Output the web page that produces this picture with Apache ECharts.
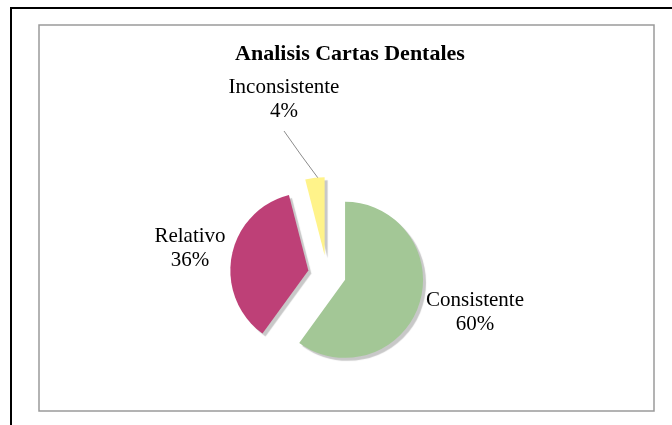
<!DOCTYPE html>
<html lang="es" style="height: 100%">
<head>
    <meta charset="utf-8" />
    <script src="https://cdn.jsdelivr.net/npm/echarts@6/dist/echarts.min.js"></script>
</head>
<body style="height: 100%; margin: 0; background: #fff">
    <div id="container" style="width: 672px; height: 425px;"></div>
    <script type="text/javascript">
        var dom = document.getElementById('container');
        var myChart = echarts.init(dom, null, { renderer: 'canvas' });

        const categories = ['Consistente', 'Relativo', 'Inconsistente'];
        const values = [60, 36, 4];
        const colors = ['#A3C796', '#BE4077', '#FFF38A'];

        // where each label block sits (center of the two lines)
        const labelPos = [[475, 312], [190, 248], [284, 99]];

        const fontFamily = '"Liberation Serif", "DejaVu Serif", serif';
        const pieCenter = [327, 274];
        const pieRadius = 78;

        var option = {
            backgroundColor: '#fff',
            animation: false,
            title: {
                text: 'Analisis Cartas Dentales',
                left: 345,
                top: 38,
                textAlign: 'center',
                textStyle: {
                    fontFamily: fontFamily,
                    fontWeight: 'bold',
                    fontSize: 22,
                    color: '#000'
                }
            },
            graphic: [
                {
                    type: 'rect',
                    shape: { x: 11, y: 8, width: 720, height: 500 },
                    style: { fill: 'none', stroke: '#000', lineWidth: 2 },
                    silent: true
                },
                {
                    type: 'rect',
                    shape: { x: 39, y: 25, width: 615, height: 386 },
                    style: { fill: 'none', stroke: '#9a9a9a', lineWidth: 1.5 },
                    silent: true
                }
            ],
            series: [
                {
                    // exploded slices
                    type: 'pie',
                    center: pieCenter,
                    radius: pieRadius,
                    startAngle: 90,
                    clockwise: true,
                    selectedMode: 'multiple',
                    selectedOffset: 19,
                    emphasis: { disabled: true },
                    itemStyle: {
                        shadowColor: '#c8c8c8',
                        shadowBlur: 1,
                        shadowOffsetX: 3,
                        shadowOffsetY: 3
                    },
                    label: { show: false },
                    labelLine: { show: false },
                    data: categories.map(function (name, i) {
                        return {
                            name: name,
                            value: values[i],
                            selected: true,
                            itemStyle: { color: colors[i] }
                        };
                    })
                },
                {
                    // same pie, invisible, only carries the labels
                    type: 'pie',
                    center: pieCenter,
                    radius: pieRadius,
                    startAngle: 90,
                    clockwise: true,
                    silent: true,
                    selectedMode: false,
                    emphasis: { disabled: true },
                    itemStyle: { color: 'rgba(0,0,0,0)' },
                    label: {
                        show: true,
                        position: 'outside',
                        formatter: '{b}\n{c}%',
                        fontFamily: fontFamily,
                        fontSize: 21,
                        lineHeight: 24,
                        color: '#000',
                        align: 'center'
                    },
                    labelLine: {
                        show: false,
                        lineStyle: { color: '#8c8c8c', width: 1 }
                    },
                    labelLayout: function (params) {
                        var p = labelPos[params.dataIndex];
                        var res = {
                            x: p[0],
                            y: p[1],
                            align: 'center',
                            verticalAlign: 'middle'
                        };
                        if (params.dataIndex === 2) {
                            res.labelLinePoints = [[318, 178], [301, 155], [284, 131]];
                        }
                        return res;
                    },
                    data: categories.map(function (name, i) {
                        var item = { name: name, value: values[i] };
                        if (i === 2) {
                            item.labelLine = { show: true };
                        }
                        return item;
                    })
                }
            ]
        };

        myChart.setOption(option);
        window.addEventListener('resize', myChart.resize);
    </script>
</body>
</html>
